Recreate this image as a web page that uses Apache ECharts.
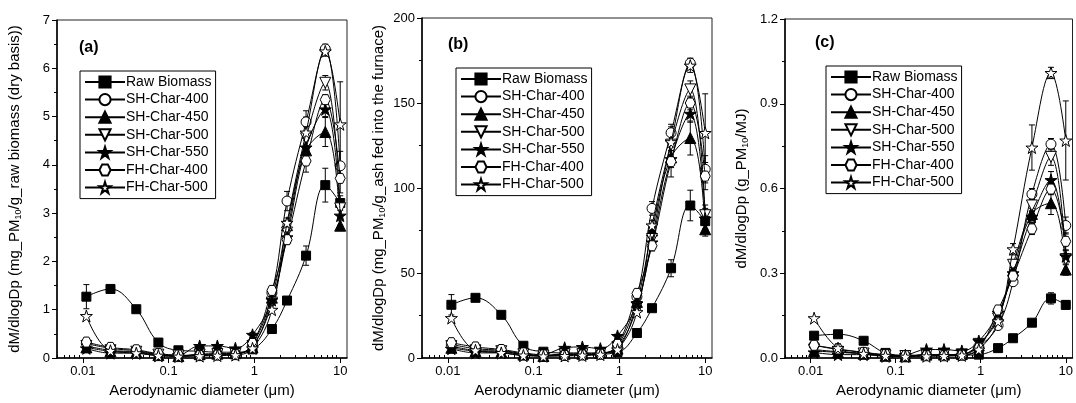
<!DOCTYPE html>
<html><head><meta charset="utf-8">
<script src="https://cdn.jsdelivr.net/npm/echarts@6/dist/echarts.min.js"></script>
<style>html,body{margin:0;padding:0;background:#fff}#c{width:1076px;height:403px}</style>
</head><body><div id="c"></div>
<script>
// ---- data ----
const diameters = [0.011, 0.021, 0.042, 0.076, 0.13, 0.23, 0.37, 0.60, 0.95, 1.6, 2.4, 4.0, 6.7, 10];
const seriesNames = ['Raw Biomass', 'SH-Char-400', 'SH-Char-450', 'SH-Char-500', 'SH-Char-550', 'FH-Char-400', 'FH-Char-500'];
const majorTicks = [0.01, 0.1, 1, 10];
const minorTicks = [0.005, 0.006, 0.007, 0.008, 0.009, 0.02, 0.03, 0.04, 0.05, 0.06, 0.07, 0.08, 0.09,
  0.2, 0.3, 0.4, 0.5, 0.6, 0.7, 0.8, 0.9, 2, 3, 4, 5, 6, 7, 8, 9];

// panel (a): mg_PM10/g_raw biomass
const aRaw   = [1.27, 1.43, 1.01, 0.32, 0.16, 0.14, 0.12, 0.12, 0.18, 0.60, 1.19, 2.12, 3.58, 3.21];
const aSH400 = [0.30, 0.20, 0.15, 0.08, 0.05, 0.06, 0.07, 0.08, 0.28, 1.35, 3.25, 4.89, 6.40, 3.98];
const aSH450 = [0.22, 0.14, 0.12, 0.06, 0.04, 0.08, 0.09, 0.10, 0.22, 1.25, 2.75, 4.30, 4.68, 2.74];
const aSH500 = [0.25, 0.16, 0.13, 0.07, 0.05, 0.07, 0.08, 0.09, 0.25, 1.15, 2.60, 4.55, 5.70, 3.10];
const aSH550 = [0.20, 0.10, 0.10, 0.05, 0.06, 0.25, 0.25, 0.20, 0.48, 1.20, 2.50, 4.36, 5.15, 2.95];
const aFH400 = [0.33, 0.22, 0.17, 0.09, 0.06, 0.05, 0.06, 0.07, 0.30, 1.40, 2.45, 4.08, 5.35, 3.72];
const aFH500 = [0.87, 0.15, 0.10, 0.05, 0.03, 0.04, 0.05, 0.06, 0.20, 1.00, 2.80, 4.67, 6.35, 4.84];
const aRawErr   = [0.25, 0, 0, 0, 0, 0, 0, 0, 0, 0, 0.05, 0.2, 0.35, 0.15];
const aSH400Err = [0.05, 0.05, 0, 0, 0, 0, 0, 0, 0, 0.05, 0.2, 0.1, 0.1, 0.3];
const aSH450Err = [0, 0.1, 0, 0, 0, 0, 0, 0, 0, 0, 0.1, 0.1, 0.3, 0.1];
const aSH500Err = [0, 0, 0, 0, 0, 0, 0, 0, 0, 0, 0.1, 0.25, 0.15, 0.2];
const aSH550Err = [0, 0.1, 0, 0, 0, 0, 0, 0, 0.05, 0.05, 0.1, 0.15, 0.15, 0.2];
const aFH400Err = [0, 0, 0, 0, 0, 0, 0, 0, 0, 0, 0.1, 0.23, 0.1, 0.3];
const aFH500Err = [0, 0, 0, 0, 0, 0, 0, 0, 0, 0, 0.1, 0.45, 0.1, 0.88];

// panel (b): mg_PM10/g_ash fed into the furnace
const bRaw   = [31.3, 35.4, 25.4, 7.2, 3.7, 3.0, 3.0, 3.0, 3.5, 14.7, 29.3, 52.8, 89.7, 80.5];
const bSH400 = [8.0, 5.5, 4.5, 2.5, 1.5, 2.0, 2.0, 2.5, 7.0, 36, 88, 132.5, 173.4, 111];
const bSH450 = [6.0, 4.0, 3.5, 2.0, 1.2, 2.5, 2.5, 3.0, 5.5, 33, 75, 118, 129.4, 75.7];
const bSH500 = [7.0, 4.5, 4.0, 2.2, 1.4, 2.2, 2.2, 2.8, 6.5, 30, 70, 125.5, 158, 84];
const bSH550 = [5.5, 3.0, 3.0, 1.5, 2.0, 6.0, 6.5, 5.5, 13, 32, 68, 117, 143.7, 82];
const bFH400 = [9.0, 6.5, 5.0, 3.0, 1.8, 1.5, 1.8, 2.2, 8.0, 38, 66, 115.5, 150, 107];
const bFH500 = [23.5, 4.5, 3.0, 1.5, 1.0, 1.2, 1.5, 2.0, 5.0, 27, 78, 127, 172, 132.4];
const bRawErr   = [6, 0, 0, 0, 0, 0, 0, 0, 0, 0, 1.5, 5, 9, 5];
const bSH400Err = [1.5, 1.5, 0, 0, 0, 0, 0, 0, 0, 1, 4, 5, 3, 8];
const bSH450Err = [0, 2, 0, 0, 0, 0, 0, 0, 0, 0, 3, 4, 10, 4];
const bSH500Err = [0, 0, 0, 0, 0, 0, 0, 0, 0, 0, 3, 6, 5, 6];
const bSH550Err = [0, 1.5, 0, 0, 0, 0, 0, 0, 1, 1, 3, 5, 5, 6];
const bFH400Err = [0, 0, 0, 0, 0, 0, 0, 0, 0, 0, 3, 9, 4, 8];
const bFH500Err = [0, 0, 0, 0, 0, 0, 0, 0, 0, 0, 3, 9, 4, 23];

// panel (c): g_PM10/MJ
const cRaw   = [0.079, 0.084, 0.061, 0.018, 0.010, 0.010, 0.010, 0.010, 0.012, 0.035, 0.070, 0.125, 0.211, 0.188];
const cSH400 = [0.045, 0.030, 0.020, 0.010, 0.008, 0.010, 0.010, 0.012, 0.040, 0.115, 0.270, 0.580, 0.757, 0.469];
const cSH450 = [0.025, 0.020, 0.015, 0.008, 0.006, 0.012, 0.012, 0.014, 0.045, 0.150, 0.310, 0.510, 0.548, 0.313];
const cSH500 = [0.030, 0.022, 0.016, 0.009, 0.007, 0.011, 0.011, 0.013, 0.050, 0.140, 0.330, 0.540, 0.712, 0.350];
const cSH550 = [0.020, 0.012, 0.012, 0.006, 0.010, 0.030, 0.030, 0.025, 0.060, 0.160, 0.300, 0.500, 0.630, 0.360];
const cFH400 = [0.045, 0.032, 0.020, 0.012, 0.008, 0.008, 0.008, 0.010, 0.035, 0.170, 0.290, 0.457, 0.598, 0.413];
const cFH500 = [0.141, 0.035, 0.015, 0.008, 0.005, 0.006, 0.007, 0.009, 0.030, 0.130, 0.385, 0.745, 1.009, 0.770];
const cRawErr   = [0, 0, 0, 0, 0, 0, 0, 0, 0, 0, 0, 0.005, 0.02, 0.015];
const cSH400Err = [0, 0.02, 0, 0, 0, 0, 0, 0, 0, 0, 0.01, 0.02, 0.02, 0.03];
const cSH450Err = [0, 0, 0, 0, 0, 0, 0, 0, 0, 0, 0.01, 0.02, 0.04, 0.02];
const cSH500Err = [0, 0, 0, 0, 0, 0, 0, 0, 0, 0, 0.01, 0.02, 0.03, 0.02];
const cSH550Err = [0, 0.01, 0, 0, 0, 0, 0, 0, 0.005, 0, 0.01, 0.02, 0.03, 0.02];
const cFH400Err = [0, 0, 0, 0, 0, 0, 0, 0, 0, 0, 0.01, 0.02, 0.02, 0.03];
const cFH500Err = [0, 0, 0, 0, 0, 0, 0, 0, 0, 0, 0.02, 0.08, 0.02, 0.14];

// ---- styles ----
const FONT = '"Liberation Sans", Arial, sans-serif';
const STAR = 'path://M50,0 L61.2,34.5 L97.6,34.5 L68.2,55.9 L79.4,90.5 L50,69.1 L20.6,90.5 L31.8,55.9 L2.4,34.5 L38.8,34.5 Z';
const HEX = 'path://M25,0 L75,0 L100,50 L75,100 L25,100 L0,50 Z';
const markerStyles = [
  {symbol: 'rect', size: 9, fill: '#000', rot: 0},
  {symbol: 'circle', size: 10, fill: '#fff', rot: 0},
  {symbol: 'triangle', size: 11, fill: '#000', rot: 0},
  {symbol: 'triangle', size: 11, fill: '#fff', rot: 180},
  {symbol: STAR, size: 12, fill: '#000', rot: 0},
  {symbol: HEX, size: 10, fill: '#fff', rot: 0},
  {symbol: STAR, size: 12, fill: '#fff', rot: 0}
];

const panels = [
  {vals: [aRaw, aSH400, aSH450, aSH500, aSH550, aFH400, aFH500],
   errs: [aRawErr, aSH400Err, aSH450Err, aSH500Err, aSH550Err, aFH400Err, aFH500Err],
   left: 57, top: 20, height: 340, ymax: 7, yint: 1, label: '(a)', labelPos: [79, 40], legendPos: [80, 71],
   yname: 'dM/dlogDp (mg_PM{s|10}/g_raw biomass (dry basis))', nameGap: 34, fmt: v => String(v)},
  {vals: [bRaw, bSH400, bSH450, bSH500, bSH550, bFH400, bFH500],
   errs: [bRawErr, bSH400Err, bSH450Err, bSH500Err, bSH550Err, bFH400Err, bFH500Err],
   left: 422, top: 18, height: 341, ymax: 200, yint: 50, label: '(b)', labelPos: [448, 37], legendPos: [456, 68],
   yname: 'dM/dlogDp (mg_PM{s|10}/g_ash fed into the furnace)', nameGap: 35, fmt: v => String(v)},
  {vals: [cRaw, cSH400, cSH450, cSH500, cSH550, cFH400, cFH500],
   errs: [cRawErr, cSH400Err, cSH450Err, cSH500Err, cSH550Err, cFH400Err, cFH500Err],
   left: 785, top: 19, height: 341, ymax: 1.2, yint: 0.3, label: '(c)', labelPos: [815, 35], legendPos: [826, 66],
   yname: 'dM/dlogDp (g_PM{s|10}/MJ)', nameGap: 35, fmt: v => v.toFixed(1)}
];

const option = {
  animation: false,
  backgroundColor: '#fff',
  textStyle: {fontFamily: FONT, color: '#000'},
  grid: [], xAxis: [], yAxis: [], series: [], legend: [], title: []
};

panels.forEach((p, gi) => {
  option.grid.push({left: p.left, top: p.top, width: 290, height: p.height, show: true,
    borderColor: '#222', borderWidth: 1, containLabel: false});
  option.xAxis.push({
    type: 'log', gridIndex: gi, min: 0.005, max: 12, logBase: 10,
    name: 'Aerodynamic diameter (\u03bcm)', nameLocation: 'middle', nameGap: 25,
    nameTextStyle: {fontSize: 15, fontFamily: FONT, color: '#000'},
    axisLine: {onZero: false, lineStyle: {color: '#000', width: 1.5}},
    axisTick: {customValues: majorTicks, length: 5, lineStyle: {color: '#000', width: 1}},
    axisLabel: {customValues: majorTicks, fontSize: 13, color: '#000', fontFamily: FONT, margin: 7,
      formatter: v => String(+v.toPrecision(3))},
    splitLine: {show: false}, minorTick: {show: false}
  });
  option.xAxis.push({
    type: 'log', gridIndex: gi, min: 0.005, max: 12, logBase: 10,
    axisLine: {show: false},
    axisTick: {customValues: minorTicks, length: 3, lineStyle: {color: '#000', width: 1}},
    axisLabel: {show: false}, splitLine: {show: false}
  });
  option.yAxis.push({
    type: 'value', gridIndex: gi, min: 0, max: p.ymax, interval: p.yint,
    name: p.yname, nameLocation: 'middle', nameGap: p.nameGap, nameRotate: 90,
    nameTextStyle: {fontSize: 15, fontFamily: FONT, color: '#000', lineHeight: 16,
      rich: {s: {fontSize: 9, lineHeight: 9, verticalAlign: 'bottom', fontFamily: FONT, color: '#000'}}},
    axisLine: {show: true, lineStyle: {color: '#000', width: 1.5}},
    axisTick: {show: true, length: 5, lineStyle: {color: '#000'}},
    minorTick: {show: true, splitNumber: 2, length: 3, lineStyle: {color: '#000'}},
    axisLabel: {fontSize: 13, color: '#000', fontFamily: FONT, margin: 7, formatter: p.fmt},
    splitLine: {show: false}
  });
  option.title.push({text: p.label, left: p.labelPos[0], top: p.labelPos[1], padding: 0,
    textStyle: {fontSize: 16, fontWeight: 'bold', fontFamily: FONT, color: '#000'}});
  option.legend.push({
    data: seriesNames, left: p.legendPos[0], top: p.legendPos[1], orient: 'vertical',
    itemWidth: 40, itemHeight: 14, itemGap: 3.6, padding: [4, 4, 4, 4],
    borderColor: '#000', borderWidth: 1, backgroundColor: '#fff', borderRadius: 0,
    textStyle: {fontSize: 14, fontFamily: FONT, color: '#000', padding: [0, 0, 0, -4]},
    selectedMode: false
  });
  // error bars
  p.errs.forEach((err, si) => {
    const data = [];
    diameters.forEach((d, i) => { if (err[i]) data.push([d, p.vals[si][i] - err[i], p.vals[si][i] + err[i]]); });
    option.series.push({
      type: 'custom', xAxisIndex: 2 * gi, yAxisIndex: gi, data: data, z: 1, silent: true,
      encode: {x: 0, y: [1, 2]},
      renderItem: (params, api) => {
        const x = api.value(0);
        const lo = api.coord([x, Math.max(0, api.value(1))]);
        const hi = api.coord([x, api.value(2)]);
        const w = 3;
        const st = {stroke: '#000', lineWidth: 1, fill: null};
        return {type: 'group', children: [
          {type: 'line', shape: {x1: lo[0], y1: lo[1], x2: hi[0], y2: hi[1]}, style: st},
          {type: 'line', shape: {x1: lo[0] - w, y1: lo[1], x2: lo[0] + w, y2: lo[1]}, style: st},
          {type: 'line', shape: {x1: hi[0] - w, y1: hi[1], x2: hi[0] + w, y2: hi[1]}, style: st}
        ]};
      }
    });
  });
  // lines
  p.vals.forEach((vals, si) => {
    const m = markerStyles[si];
    option.series.push({
      type: 'line', name: seriesNames[si], xAxisIndex: 2 * gi, yAxisIndex: gi,
      data: diameters.map((d, i) => [d, vals[i]]),
      smooth: 0.4, symbol: m.symbol, symbolSize: m.size, symbolRotate: m.rot, showAllSymbol: true,
      lineStyle: {color: '#000', width: 1},
      itemStyle: {color: m.fill, borderColor: '#000', borderWidth: 1, opacity: 1},
      z: 2 + si
    });
  });
});

const chart = echarts.init(document.getElementById('c'), null, {renderer: 'canvas'});
chart.setOption(option);
</script>
</body></html>
